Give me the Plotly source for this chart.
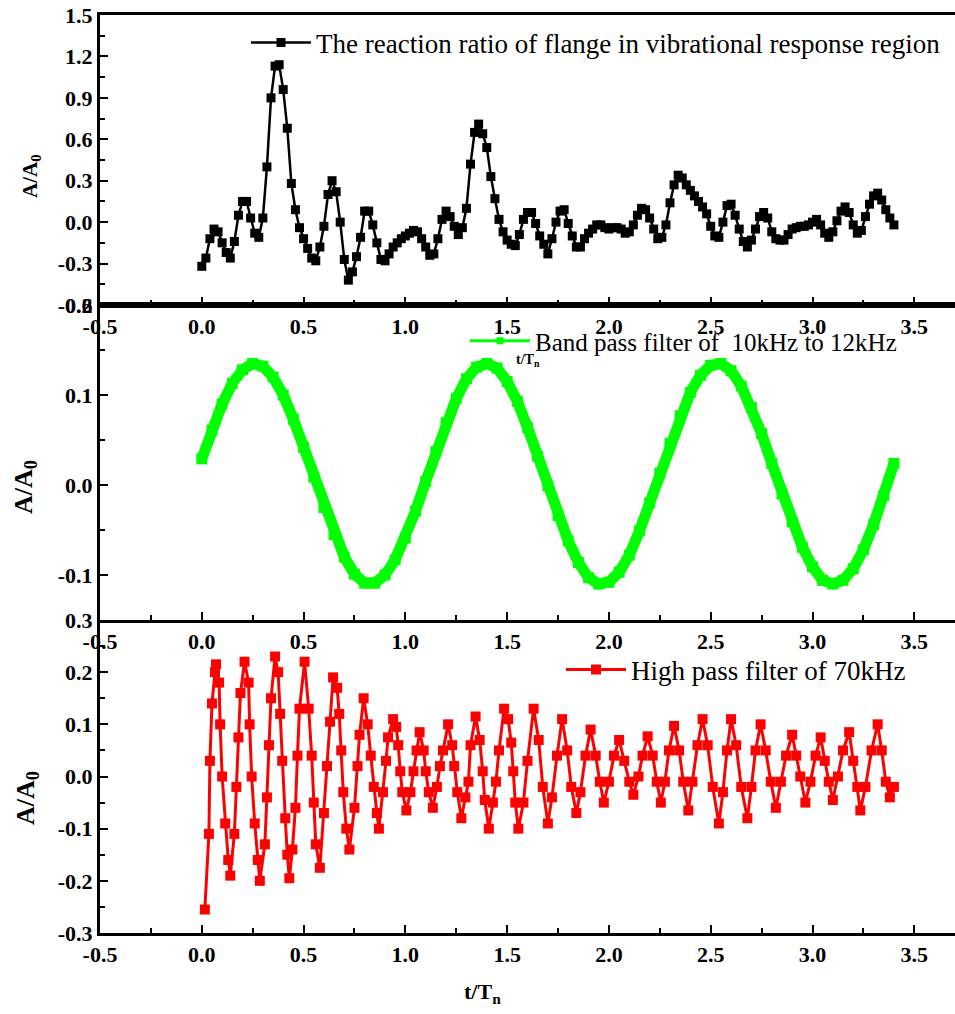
import plotly.graph_objects as go

SERIF = "Liberation Serif, Times New Roman, serif"

# ---------------- data ----------------
# Panel 1: reaction ratio of flange (sampled every 0.02 t/Tn)
t1 = [round(i * 0.02, 2) for i in range(171)]
r1 = [
    -0.32, -0.26, -0.12, -0.05, -0.07, -0.15, -0.22, -0.26, -0.14, 0.05,
    0.15, 0.15, 0.03, -0.08, -0.11, 0.03, 0.40, 0.90, 1.13, 1.14,
    0.96, 0.68, 0.28, 0.09, -0.04, -0.12, -0.19, -0.26, -0.28, -0.18,
    -0.03, 0.20, 0.30, 0.22, 0.00, -0.27, -0.42, -0.36, -0.25, -0.11,
    0.08, 0.08, -0.02, -0.15, -0.27, -0.28, -0.23, -0.18, -0.15, -0.12,
    -0.10, -0.08, -0.06, -0.07, -0.12, -0.18, -0.24, -0.23, -0.12, 0.02,
    0.08, 0.04, -0.03, -0.09, -0.04, 0.10, 0.42, 0.65, 0.71, 0.64,
    0.54, 0.33, 0.17, 0.02, -0.07, -0.13, -0.16, -0.17, -0.09, 0.02,
    0.07, 0.07, -0.01, -0.10, -0.16, -0.23, -0.12, 0.00, 0.08, 0.09,
    -0.01, -0.10, -0.18, -0.18, -0.12, -0.08, -0.05, -0.02, -0.02, -0.04,
    -0.05, -0.04, -0.04, -0.05, -0.08, -0.07, -0.02, 0.05, 0.10, 0.09,
    0.03, -0.05, -0.12, -0.11, -0.02, 0.14, 0.27, 0.34, 0.32, 0.27,
    0.23, 0.19, 0.15, 0.11, 0.06, -0.03, -0.10, -0.11, 0.00, 0.12,
    0.13, 0.05, -0.05, -0.14, -0.18, -0.13, -0.05, 0.04, 0.07, 0.03,
    -0.07, -0.12, -0.13, -0.13, -0.09, -0.05, -0.04, -0.03, -0.03, -0.02,
    0.00, 0.02, -0.02, -0.08, -0.11, -0.07, 0.01, 0.08, 0.11, 0.07,
    -0.02, -0.08, -0.06, 0.04, 0.13, 0.19, 0.21, 0.16, 0.09, 0.03,
    -0.02,
]

# Panel 2: band pass filter 10-12 kHz (sampled every 0.05 t/Tn)
t2 = [round(i * 0.05, 2) for i in range(69)]
r2 = [
    0.029, 0.061, 0.090, 0.113, 0.128, 0.135, 0.132, 0.120, 0.100, 0.073,
    0.042, 0.009, -0.025, -0.055, -0.080, -0.099, -0.109, -0.109, -0.100, -0.083,
    -0.059, -0.029, 0.004, 0.037, 0.069, 0.096, 0.118, 0.131, 0.135, 0.130,
    0.115, 0.093, 0.064, 0.032, -0.001, -0.034, -0.062, -0.086, -0.103, -0.110,
    -0.108, -0.097, -0.078, -0.051, -0.020, 0.013, 0.046, 0.077, 0.103, 0.122,
    0.133, 0.135, 0.127, 0.110, 0.086, 0.057, 0.024, -0.010, -0.041, -0.069,
    -0.091, -0.106, -0.110, -0.106, -0.093, -0.072, -0.044, -0.012, 0.024,
]

# Panel 3: high pass filter 70 kHz
t3 = [
    0.015, 0.035, 0.04, 0.05, 0.065, 0.07, 0.085, 0.09, 0.10, 0.115, 0.13, 0.14,
    0.16, 0.17, 0.18, 0.19, 0.21, 0.23, 0.235, 0.245, 0.26, 0.275, 0.285,
    0.31, 0.32, 0.33, 0.34, 0.36, 0.375, 0.385, 0.395, 0.41, 0.42, 0.43,
    0.445, 0.46, 0.47, 0.48, 0.505, 0.525, 0.54, 0.55, 0.56, 0.58,
    0.60, 0.615, 0.63, 0.645, 0.665, 0.675, 0.685, 0.695, 0.71, 0.725,
    0.75, 0.765, 0.775, 0.795, 0.815, 0.83, 0.845, 0.86, 0.87,
    0.89, 0.905, 0.915, 0.94, 0.955, 0.965, 0.975, 0.985, 1.005,
    1.025, 1.04, 1.055, 1.07, 1.09, 1.10, 1.115, 1.135,
    1.155, 1.17, 1.185, 1.21, 1.23, 1.24, 1.255, 1.275,
    1.295, 1.31, 1.32, 1.345, 1.365, 1.38, 1.39, 1.41,
    1.43, 1.445, 1.46, 1.485, 1.505, 1.52, 1.53, 1.54, 1.555,
    1.58, 1.60, 1.63, 1.655, 1.675, 1.70,
    1.72, 1.745, 1.77, 1.795, 1.815, 1.84,
    1.86, 1.885, 1.91, 1.935, 1.955, 1.975,
    2.00, 2.025, 2.05, 2.075, 2.10, 2.12,
    2.145, 2.165, 2.19, 2.215, 2.235, 2.255,
    2.275, 2.295, 2.32, 2.345, 2.365, 2.39,
    2.41, 2.435, 2.46, 2.485, 2.51, 2.54,
    2.56, 2.58, 2.60, 2.625, 2.65, 2.68,
    2.70, 2.72, 2.745, 2.77, 2.795, 2.82,
    2.845, 2.87, 2.90, 2.92, 2.94, 2.965,
    2.99, 3.015, 3.04, 3.06, 3.08, 3.10,
    3.125, 3.15, 3.18, 3.20, 3.22, 3.235,
    3.26, 3.29, 3.32, 3.34, 3.36, 3.38, 3.40,
]
r3 = [
    -0.255, -0.11, 0.03, 0.14, 0.20, 0.215, 0.18, 0.10, 0.00, -0.09, -0.16, -0.19,
    -0.11, -0.02, 0.075, 0.16, 0.22, 0.18, 0.10, 0.00, -0.09, -0.16, -0.20,
    -0.13, -0.04, 0.06, 0.15, 0.23, 0.20, 0.12, 0.03, -0.08, -0.15, -0.195,
    -0.14, -0.06, 0.04, 0.13, 0.22, 0.13, 0.04, -0.05, -0.13, -0.175,
    -0.07, 0.02, 0.105, 0.19, 0.17, 0.12, 0.05, -0.03, -0.10, -0.14,
    -0.06, 0.02, 0.08, 0.15, 0.10, 0.04, -0.02, -0.07, -0.10,
    -0.03, 0.03, 0.075, 0.11, 0.095, 0.06, 0.01, -0.03, -0.065,
    -0.03, 0.01, 0.05, 0.085, 0.05, 0.01, -0.03, -0.06,
    -0.02, 0.02, 0.05, 0.10, 0.06, 0.02, -0.03, -0.08,
    -0.04, -0.01, 0.06, 0.115, 0.07, 0.01, -0.045, -0.10,
    -0.05, -0.01, 0.05, 0.13, 0.11, 0.065, 0.01, -0.05, -0.10,
    -0.05, 0.03, 0.13, 0.07, -0.02, -0.09,
    -0.04, 0.04, 0.11, 0.05, -0.02, -0.07,
    -0.03, 0.04, 0.09, 0.04, -0.01, -0.05,
    -0.01, 0.04, 0.07, 0.03, -0.01, -0.035,
    0.00, 0.04, 0.077, 0.04, -0.01, -0.05,
    -0.01, 0.05, 0.097, 0.05, -0.01, -0.065,
    -0.01, 0.06, 0.11, 0.06, -0.02, -0.09,
    -0.03, 0.05, 0.11, 0.06, -0.02, -0.08,
    -0.02, 0.05, 0.10, 0.05, -0.01, -0.06,
    -0.01, 0.04, 0.08, 0.04, 0.00, -0.05,
    -0.01, 0.04, 0.075, 0.03, -0.01, -0.045,
    0.00, 0.05, 0.085, 0.03, -0.02, -0.065,
    -0.02, 0.05, 0.10, 0.05, -0.01, -0.04, -0.02,
]

name1 = "The reaction ratio of flange in vibrational response region"
name2 = "Band pass filter of  10kHz to 12kHz"
name3 = "High pass filter of 70kHz"

# tick values and labels
x_ticks = [-0.5, 0.0, 0.5, 1.0, 1.5, 2.0, 2.5, 3.0, 3.5]
x_labels = ["-0.5", "0.0", "0.5", "1.0", "1.5", "2.0", "2.5", "3.0", "3.5"]
y1_ticks = [-0.6, -0.3, 0.0, 0.3, 0.6, 0.9, 1.2, 1.5]
y1_labels = ["-0.6", "-0.3", "0.0", "0.3", "0.6", "0.9", "1.2", "1.5"]
y2_ticks = [-0.1, 0.0, 0.1, 0.2]
y2_labels = ["-0.1", "0.0", "0.1", "0.2"]
y3_ticks = [-0.3, -0.2, -0.1, 0.0, 0.1, 0.2, 0.3]
y3_labels = ["-0.3", "-0.2", "-0.1", "0.0", "0.1", "0.2", "0.3"]

# ---------------- layout geometry ----------------
W, H = 955, 1014
def py(v):
    return 1 - v / H

XDOM = [100 / W, 1.0]
D1 = [py(305), py(15)]
D2 = [py(620), py(305)]
D3 = [py(933), py(620)]

GREEN = "#00ff00"
RED = "#ff0000"

fig = go.Figure()

fig.add_trace(go.Scatter(
    x=t1, y=r1, mode="lines+markers", name=name1, legend="legend",
    line=dict(color="black", width=2.5),
    marker=dict(symbol="square", size=9, color="black"),
    xaxis="x", yaxis="y",
))

fig.add_trace(go.Scatter(
    x=t2, y=r2, mode="lines+markers", showlegend=False,
    line=dict(color=GREEN, width=11),
    marker=dict(symbol="square", size=11, color=GREEN),
    xaxis="x2", yaxis="y2",
))
fig.add_trace(go.Scatter(
    x=[None], y=[None], mode="lines+markers", name=name2, legend="legend2",
    line=dict(color=GREEN, width=3),
    marker=dict(symbol="square", size=7, color=GREEN),
    xaxis="x2", yaxis="y2",
))

fig.add_trace(go.Scatter(
    x=t3, y=r3, mode="lines+markers", name=name3, legend="legend3",
    line=dict(color=RED, width=3),
    marker=dict(symbol="square", size=10, color=RED),
    xaxis="x3", yaxis="y3",
))

tickfont = dict(family=SERIF, size=22, color="black", weight="bold")

def xax(anchor, mirror):
    return dict(
        domain=XDOM, anchor=anchor, range=[-0.5, 3.7], automargin=False,
        tickmode="array", tickvals=x_ticks, ticktext=x_labels,
        ticks="inside", ticklen=8, tickwidth=2, tickcolor="black",
        showline=True, linecolor="black", linewidth=3, mirror=mirror,
        showgrid=False, zeroline=False, tickfont=tickfont,
        minor=dict(ticks="inside", ticklen=5, tickwidth=2, tickmode="linear",
                   tick0=0, dtick=0.25, tickcolor="black", showgrid=False),
    )

def yax(anchor, dom, rng, tv, tt, mdt):
    return dict(
        domain=dom, anchor=anchor, range=rng, automargin=False,
        tickmode="array", tickvals=tv, ticktext=tt,
        ticks="inside", ticklen=8, tickwidth=2, tickcolor="black",
        showline=True, linecolor="black", linewidth=3,
        showgrid=False, zeroline=False, tickfont=tickfont,
        minor=dict(ticks="inside", ticklen=5, tickwidth=2, tickmode="linear",
                   tick0=0, dtick=mdt, tickcolor="black", showgrid=False),
    )

def legfont(size):
    return dict(family=SERIF, size=size, color="black")

fig.update_layout(
    width=W, height=H,
    margin=dict(l=0, r=0, t=0, b=0, autoexpand=False),
    paper_bgcolor="white", plot_bgcolor="white",
    xaxis=xax("y", True),
    xaxis2=xax("y2", True),
    xaxis3=xax("y3", False),
    yaxis=yax("x", D1, [-0.6, 1.5], y1_ticks, y1_labels, 0.15),
    yaxis2=yax("x2", D2, [-0.15, 0.2], y2_ticks, y2_labels, 0.05),
    yaxis3=yax("x3", D3, [-0.3, 0.3], y3_ticks, y3_labels, 0.05),
    legend=dict(x=246 / W, y=py(43), xanchor="left", yanchor="middle",
                bgcolor="rgba(0,0,0,0)", font=legfont(27), itemwidth=60),
    legend2=dict(x=465 / W, y=py(341), xanchor="left", yanchor="middle",
                 bgcolor="rgba(0,0,0,0)", font=legfont(25), itemwidth=60),
    legend3=dict(x=561 / W, y=py(670), xanchor="left", yanchor="middle",
                 bgcolor="rgba(0,0,0,0)", font=legfont(27), itemwidth=60),
)

# axis titles placed as in the reference
ann = [
    dict(text="A/A<sub>0</sub>", x=31 / W, y=py(176), size=21, angle=-90),
    dict(text="A/A<sub>0</sub>", x=25 / W, y=py(487), size=26, angle=-90),
    dict(text="A/A<sub>0</sub>", x=27 / W, y=py(798), size=26, angle=-90),
    dict(text="t/T<sub>n</sub>", x=528 / W, y=py(360), size=14, angle=0),
    dict(text="t/T<sub>n</sub>", x=482 / W, y=py(993), size=22, angle=0),
]
for a in ann:
    fig.add_annotation(
        text=a["text"], x=a["x"], y=a["y"], xref="paper", yref="paper",
        showarrow=False, textangle=a["angle"], xanchor="center", yanchor="middle",
        font=dict(family=SERIF, size=a["size"], color="black", weight="bold"),
    )

fig.write_html("out.html")
